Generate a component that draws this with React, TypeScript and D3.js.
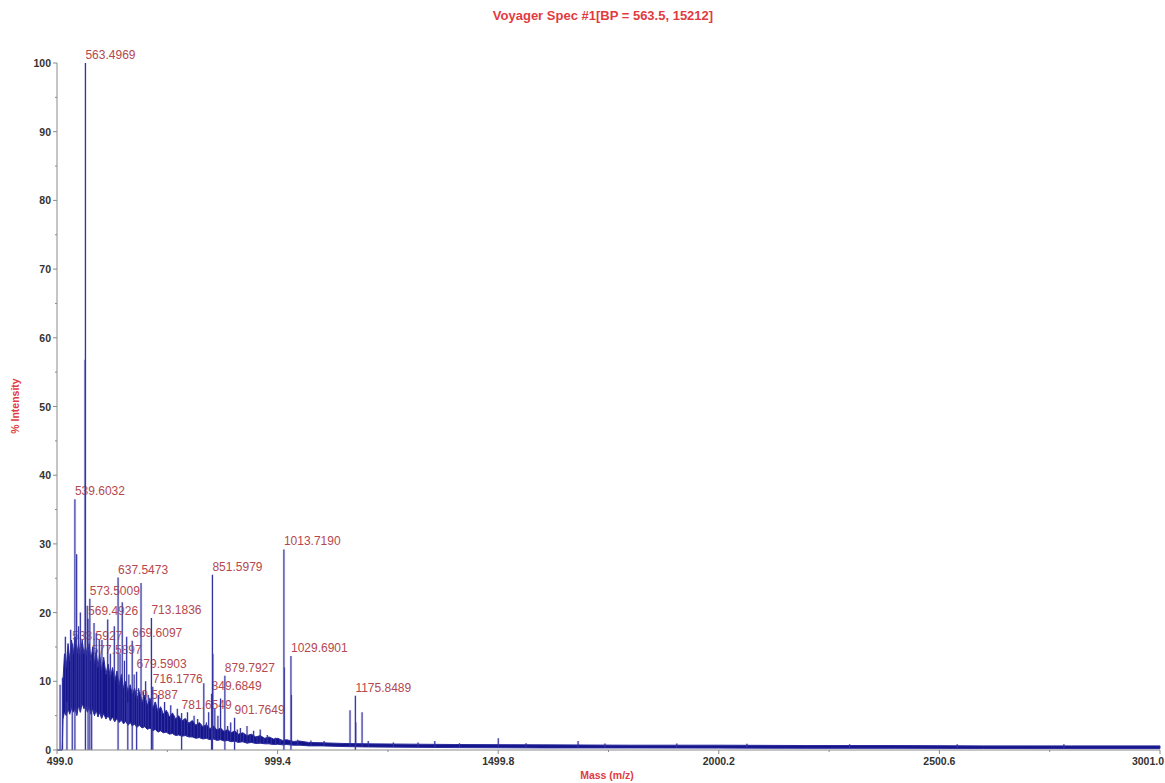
import React from "react";
import * as d3 from "d3";

// Spectrum: MALDI-TOF mass spectrum, % intensity vs m/z

const title = "Voyager Spec #1[BP = 563.5, 15212]";
const xAxisTitle = "Mass (m/z)";
const yAxisTitle = "% Intensity";

const xTickValues = [499.0, 999.4, 1499.8, 2000.2, 2500.6, 3001.0];
const xTickLabels = ["499.0", "999.4", "1499.8", "2000.2", "2500.6", "3001.0"];
const yTickValues = [0, 10, 20, 30, 40, 50, 60, 70, 80, 90, 100];

// Min/max envelope of the dense chemical-noise region
const bandMz = [
  499, 511, 512.5, 516, 520, 524, 528, 532, 536, 540, 544, 548, 552, 556, 560, 564, 568, 572, 576, 580,
  584, 588, 592, 596, 600, 605, 610, 615, 620, 625, 630, 635, 640, 645, 650, 655, 660, 665, 670, 675,
  680, 686, 692, 698, 704, 710, 716, 722, 728, 734, 740, 747, 754, 761, 768, 775, 782, 790, 798, 806,
  814, 822, 830, 838, 846, 854, 862, 870, 878, 886, 894, 902, 910, 920, 930, 940, 950, 960, 970, 980,
  990, 1000, 1010, 1020, 1035, 1050, 1070, 1100, 1150, 1200, 1300, 1400, 1600, 1800, 2000, 2200, 2400, 2600, 2800, 3001,
];
const bandLow = [
  0, 0, 4.5, 5.5, 5, 6, 5.2, 6.2, 5.5, 6, 5, 6.5, 5.5, 6.8, 6, 6.5, 5.5, 6.3, 5.2, 6,
  5, 5.8, 4.8, 5.5, 4.6, 5.3, 4.5, 5, 4.3, 4.8, 4.1, 4.6, 4, 4.4, 3.8, 4.2, 3.6, 4, 3.5, 3.8,
  3.3, 3.6, 3.2, 3.4, 3, 3.2, 2.8, 3, 2.6, 2.8, 2.5, 2.6, 2.3, 2.4, 2.1, 2.2, 2, 2.1, 1.9, 1.9,
  1.7, 1.8, 1.6, 1.7, 1.5, 1.6, 1.4, 1.5, 1.3, 1.4, 1.2, 1.3, 1.1, 1.2, 1.0, 1.1, 0.95, 1.0, 0.9, 0.9,
  0.8, 0.85, 0.75, 0.8, 0.7, 0.7, 0.6, 0.6, 0.5, 0.45, 0.4, 0.35, 0.3, 0.3, 0.28, 0.25, 0.25, 0.22, 0.2, 0.2,
];
const bandHigh = [
  0, 0, 10, 14, 12, 15.5, 13, 16, 14, 16.5, 14, 15.5, 13.5, 16, 14, 15, 13.5, 15.5, 13, 15,
  12.5, 14.5, 12, 14, 11.5, 13.5, 11, 12.5, 10.5, 12, 10, 11.5, 9.5, 11, 9, 10, 8.5, 9.5, 8, 9,
  7.5, 8.5, 7, 8, 6.5, 7.5, 6, 7, 5.6, 6.3, 5.2, 5.8, 4.8, 5.4, 4.5, 5, 4.2, 4.6, 3.9, 4.3,
  3.6, 4, 3.4, 3.7, 3.1, 3.5, 2.9, 3.2, 2.7, 3, 2.5, 2.8, 2.3, 2.5, 2.1, 2.3, 1.9, 2.1, 1.7, 1.9,
  1.6, 1.7, 1.4, 1.5, 1.25, 1.3, 1.1, 1.05, 0.95, 0.9, 0.85, 0.8, 0.75, 0.7, 0.7, 0.65, 0.65, 0.6, 0.6, 0.6,
];

// Unlabelled centroid peaks (m/z, % intensity)
const peakMz = [506, 518, 524, 530, 543.5, 548, 552, 556, 562.6, 567.5, 583, 588, 595, 601, 614, 620, 629, 642, 647, 652, 657, 662, 674, 684, 689.6, 695, 700, 706, 722, 729, 736, 743, 750, 757, 765, 772, 788, 795, 803, 810, 818, 824, 832, 838, 843, 852.6, 857, 864, 870, 886, 893, 908, 915, 922, 930, 937, 945, 953, 960, 968, 976, 985, 995, 1005, 1014.7, 1030.7, 1045, 1075, 1105, 1163.7, 1176.8, 1191, 1205, 1262, 1318, 1356, 1412, 1500, 1563, 1681, 1742, 1905, 2064, 2297, 2541, 2783];
const peakInt = [9.5, 16.5, 14, 17.5, 28.5, 18, 20, 15.5, 56.8, 21, 18.5, 17, 16, 16, 19, 14, 18, 14, 21.5, 13, 16.5, 11, 11, 9, 24.3, 8.5, 10, 8, 7, 8, 6, 7, 5.5, 6.5, 5, 6, 4.5, 5.5, 4, 5, 4.5, 3.8, 9.7, 4, 5.5, 14, 6, 5, 7.5, 3.5, 4, 3, 3.2, 2.5, 3.5, 2.2, 2.8, 2, 3, 1.8, 2.2, 1.6, 1.8, 1.5, 12, 8, 1.5, 1.4, 1.3, 5.8, 4, 5.5, 1.3, 1.1, 1.1, 1.3, 1.0, 1.7, 1.0, 1.3, 0.95, 0.95, 0.9, 0.85, 0.85, 0.85];

// Annotated peaks: the label is the peak's m/z
const labeledMz = [511.5, 563.4969, 539.6032, 573.5009, 637.5473, 569.4926, 713.1836, 533.5927, 669.6097, 577.5897, 679.5903, 716.1776, 879.7927, 849.6849, 851.5979, 1013.719, 1029.6901, 1175.8489, 901.7649, 781.6549, 659.5887, 521.551];
const labeledInt = [10.5, 100, 36.5, 22, 25.1, 19.1, 19.2, 15.5, 15.9, 13.4, 11.4, 9.2, 10.8, 8.2, 25.5, 29.2, 13.7, 7.9, 4.7, 5.4, 6.9, 7.0];
const labeledShown = [false, true, true, true, true, true, true, true, true, true, true, true, true, true, true, true, true, true, true, true, true, true];

const W = 1165;
const H = 783;

export default function App() {
  const x = d3.scaleLinear().domain([499.0, 3001.0]).range([57, 1160]);
  const y = d3.scaleLinear().domain([0, 100]).range([750, 63]);
  // noise floor under each small peak
  const floor = d3.scaleLinear().domain(bandMz).range(bandLow).clamp(true);

  const bandData = bandMz.map((m, i) => ({ m, lo: bandLow[i], hi: bandHigh[i] }));
  const band = d3
    .area<{ m: number; lo: number; hi: number }>()
    .x((d) => x(d.m))
    .y0((d) => y(d.lo))
    .y1((d) => y(d.hi))(bandData) as string;

  const smallPath = peakMz
    .map((m, i) => `M${x(m).toFixed(2)},${y(floor(m)).toFixed(2)}V${y(peakInt[i]).toFixed(2)}`)
    .join("");
  const mainPath = labeledMz
    .map((m, i) => `M${x(m).toFixed(2)},${y(0)}V${y(labeledInt[i]).toFixed(2)}`)
    .join("");
  const allPath = smallPath + mainPath;

  const yMinor = d3.range(0, 101, 5);
  const xMinor = xTickValues.slice(0, -1).map((v, i) => (v + xTickValues[i + 1]) / 2);

  const axisColor = "#8a8a8a";
  const font = "'Liberation Sans', Arial, sans-serif";

  return (
    <svg
      width={W}
      height={H}
      viewBox={`0 0 ${W} ${H}`}
      style={{ position: "absolute", left: 0, top: 0, background: "#ffffff" }}
    >
      <rect x={0} y={0} width={W} height={H} fill="#ffffff" />
      <text
        x={603}
        y={20}
        textAnchor="middle"
        fontFamily={font}
        fontWeight="bold"
        fontSize={13}
        fill="#e23b3f"
      >
        {title}
      </text>

      {/* peak annotations sit under the trace */}
      {labeledMz.map((m, i) =>
        labeledShown[i] ? (
          <text
            key={"l" + i}
            x={x(m)}
            y={y(labeledInt[i]) - 4}
            fontFamily={font}
            fontSize={12}
            fill="#b3484f"
          >
            {m.toFixed(4)}
          </text>
        ) : null
      )}

      {/* soft halo around the sticks */}
      <path d={allPath} stroke="#b4b4e2" strokeWidth={2.6} opacity={0.45} fill="none" />
      {/* noise envelope */}
      <path d={band} fill="#15158b" stroke="#2a2a9e" strokeWidth={1} />
      {/* centroid sticks */}
      <path d={allPath} stroke="#3232a0" strokeWidth={1.1} fill="none" />

      {/* y axis */}
      <line x1={57} x2={57} y1={y(100)} y2={y(0)} stroke={axisColor} strokeWidth={1} />
      {yMinor.map((v) => (
        <line
          key={"ym" + v}
          x1={v % 10 === 0 ? 53 : 55}
          x2={57}
          y1={y(v)}
          y2={y(v)}
          stroke={axisColor}
        />
      ))}
      {yTickValues.map((v) => (
        <text
          key={"yt" + v}
          x={51}
          y={y(v) + 4}
          textAnchor="end"
          fontFamily={font}
          fontWeight="bold"
          fontSize={10.5}
          fill="#333333"
        >
          {v}
        </text>
      ))}

      {/* x axis */}
      <line x1={57} x2={1160} y1={y(0)} y2={y(0)} stroke={axisColor} strokeWidth={1} />
      {xTickValues.map((v) => (
        <line key={"xt" + v} x1={x(v)} x2={x(v)} y1={750} y2={754} stroke={axisColor} />
      ))}
      {xMinor.map((v) => (
        <line key={"xm" + v} x1={x(v)} x2={x(v)} y1={750} y2={752} stroke={axisColor} />
      ))}
      {xTickValues.map((v, i) => {
        const last = i === xTickValues.length - 1;
        return (
          <text
            key={"xl" + v}
            x={i === 0 ? x(v) + 3 : last ? W - 1 : x(v)}
            y={765}
            textAnchor={last ? "end" : "middle"}
            fontFamily={font}
            fontWeight="bold"
            fontSize={10.5}
            fill="#333333"
          >
            {xTickLabels[i]}
          </text>
        );
      })}

      <text
        transform={`translate(19,406) rotate(-90)`}
        textAnchor="middle"
        fontFamily={font}
        fontWeight="bold"
        fontSize={10.5}
        fill="#e23b3f"
      >
        {yAxisTitle}
      </text>
      <text
        x={607}
        y={779}
        textAnchor="middle"
        fontFamily={font}
        fontWeight="bold"
        fontSize={10.5}
        fill="#e23b3f"
      >
        {xAxisTitle}
      </text>
    </svg>
  );
}
